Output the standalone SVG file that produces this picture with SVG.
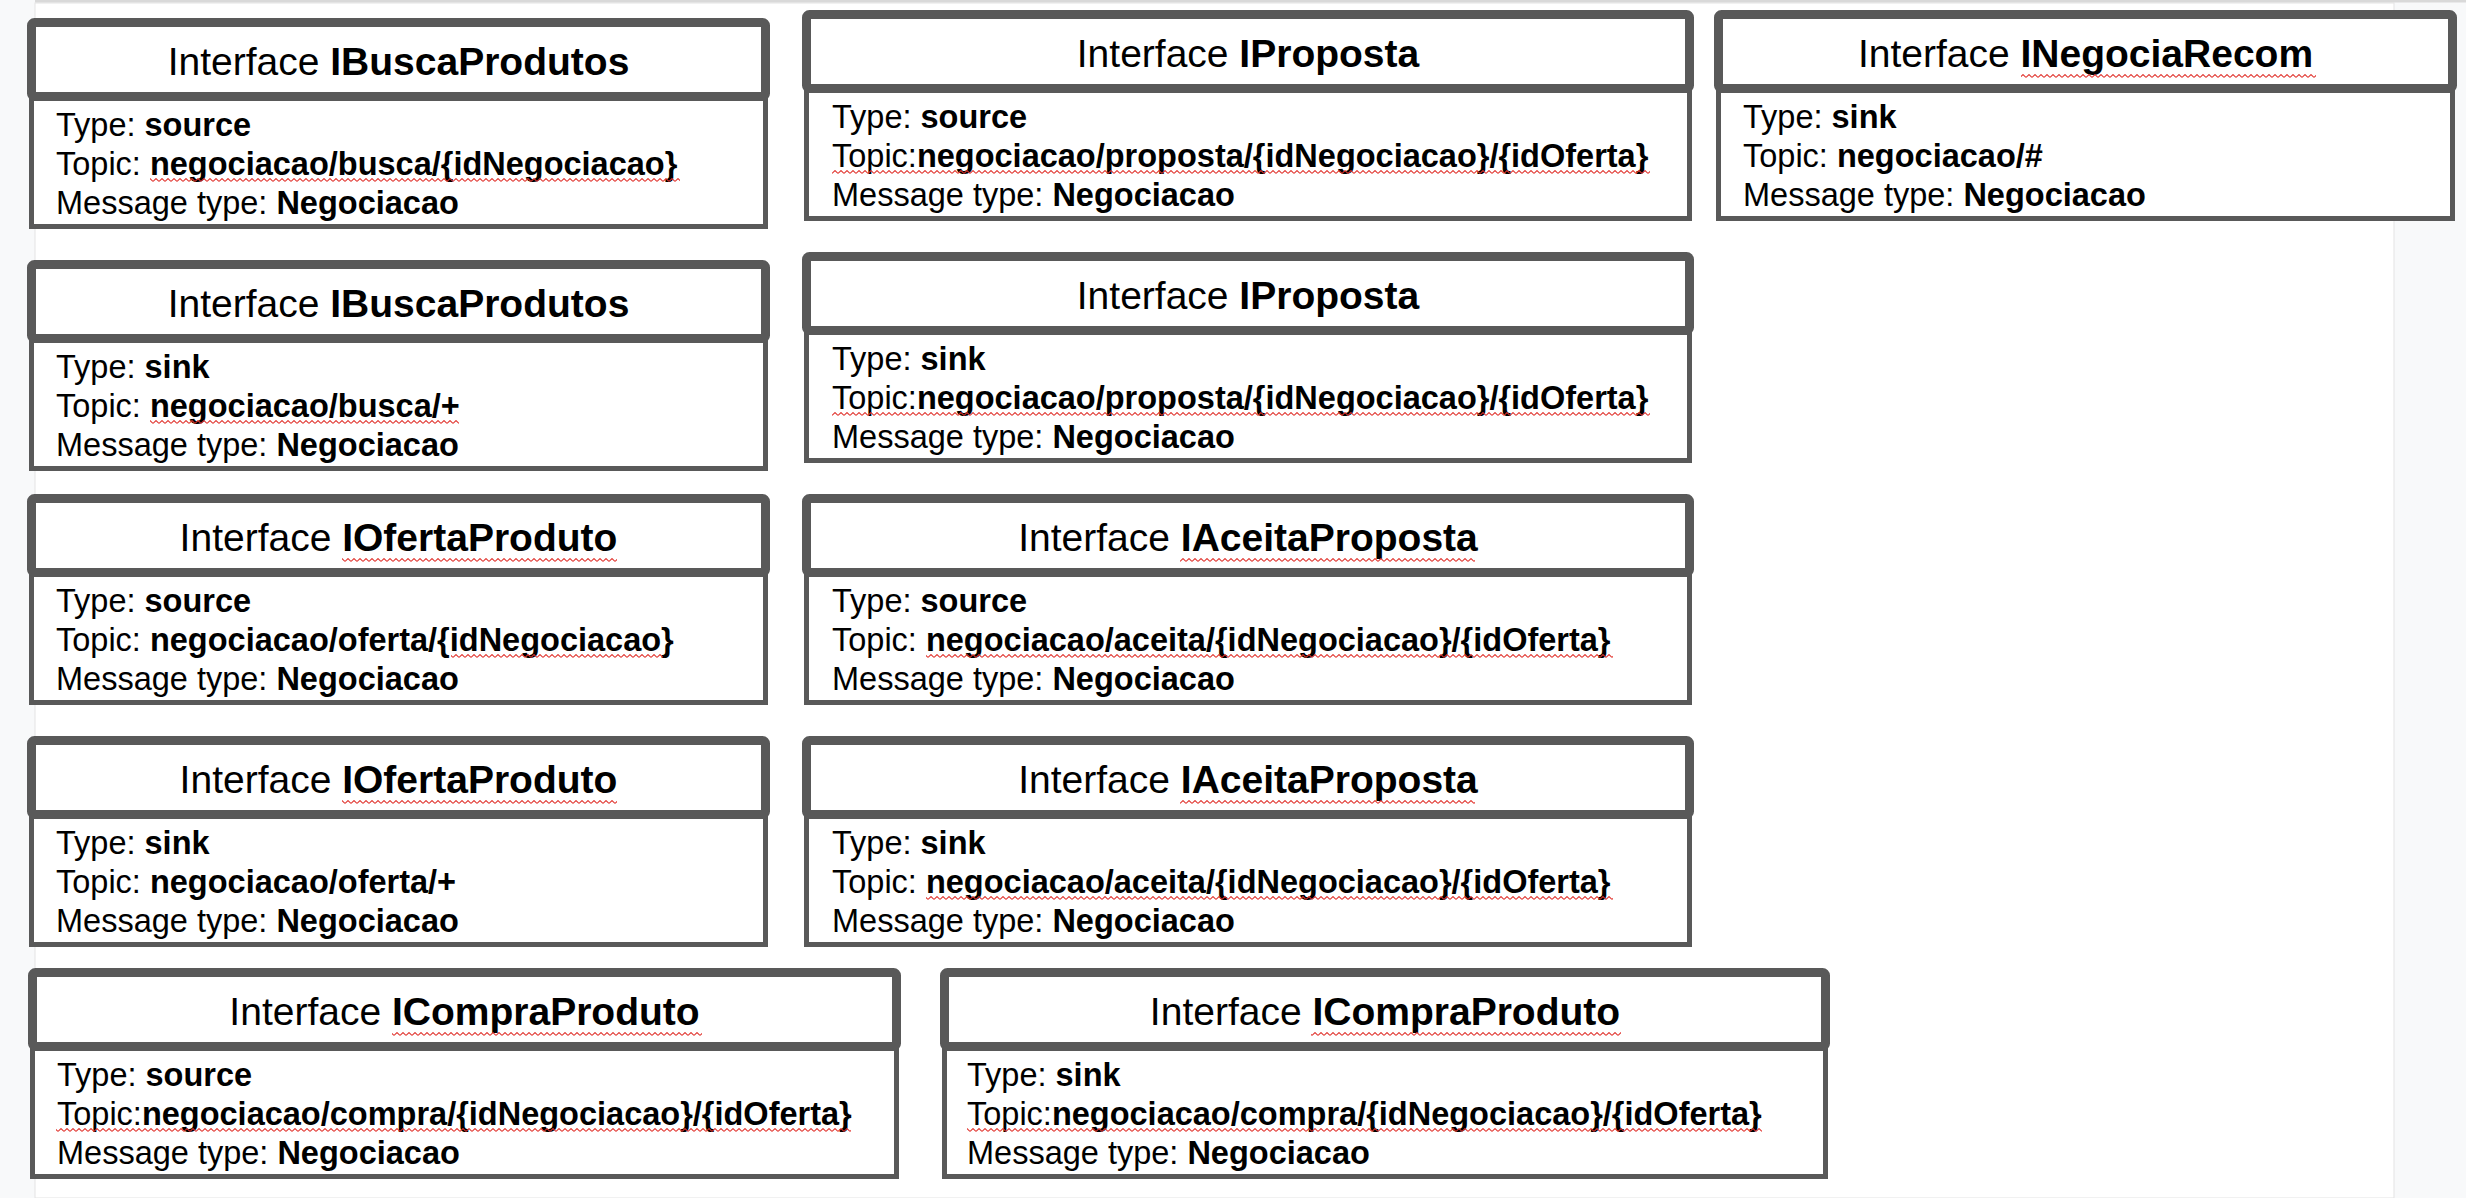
<svg xmlns="http://www.w3.org/2000/svg" width="2466" height="1198" viewBox="0 0 2466 1198">
<defs>
<style>
.hd{fill:#ffffff;stroke:#595959;stroke-width:9}
.bd{fill:#ffffff;stroke:#595959;stroke-width:5}
.tt{font-family:"Liberation Sans",Arial,sans-serif;font-size:39px;fill:#000;text-anchor:middle}
.tx{font-family:"Liberation Sans",Arial,sans-serif;font-size:32.5px;fill:#000}
.b{font-weight:bold}
.sq{fill:url(#sq)}
</style>
<pattern id="sq" patternUnits="userSpaceOnUse" width="6" height="4">
<path d="M0 3.4 L3 0.6 L6 3.4" fill="none" stroke="#e0302a" stroke-width="1.1"/>
</pattern>
</defs>
<rect x="0" y="0" width="2466" height="1198" fill="#f8f9fa"/>
<rect x="35" y="3" width="2359" height="1195" fill="#ffffff" stroke="#e3e3e3" stroke-width="1"/>
<rect x="35" y="0" width="2431" height="2.5" fill="#d9d9d9"/>
<g id="connectors"></g>

<g id="n1" transform="translate(27,18)">
<rect class="bd" x="4.5" y="78" width="734" height="130.5"/>
<rect class="hd" x="4.5" y="4.5" width="734" height="74" rx="3"/>
<text class="tt" x="371.5" y="57">Interface <tspan class="b">IBuscaProdutos</tspan></text>
<text class="tx" x="29" y="117.5">Type: <tspan class="b">source</tspan></text>
<text class="tx" x="29" y="156.5">Topic: <tspan class="b">negociacao/busca/{idNegociacao}</tspan></text>
<text class="tx" x="29" y="195.5">Message type: <tspan class="b">Negociacao</tspan></text>
<rect class="sq" x="123" y="160" width="530" height="4"/>
</g>

<g id="n2" transform="translate(27,260)">
<rect class="bd" x="4.5" y="78" width="734" height="130.5"/>
<rect class="hd" x="4.5" y="4.5" width="734" height="74" rx="3"/>
<text class="tt" x="371.5" y="57">Interface <tspan class="b">IBuscaProdutos</tspan></text>
<text class="tx" x="29" y="117.5">Type: <tspan class="b">sink</tspan></text>
<text class="tx" x="29" y="156.5">Topic: <tspan class="b">negociacao/busca/+</tspan></text>
<text class="tx" x="29" y="195.5">Message type: <tspan class="b">Negociacao</tspan></text>
<rect class="sq" x="123" y="160" width="309" height="4"/>
</g>

<g id="n3" transform="translate(27,494)">
<rect class="bd" x="4.5" y="78" width="734" height="130.5"/>
<rect class="hd" x="4.5" y="4.5" width="734" height="74" rx="3"/>
<text class="tt" x="371.5" y="57">Interface <tspan class="b">IOfertaProduto</tspan></text>
<text class="tx" x="29" y="117.5">Type: <tspan class="b">source</tspan></text>
<text class="tx" x="29" y="156.5">Topic: <tspan class="b">negociacao/oferta/{idNegociacao}</tspan></text>
<text class="tx" x="29" y="195.5">Message type: <tspan class="b">Negociacao</tspan></text>
<rect class="sq" x="315" y="64" width="275" height="4"/>
<rect class="sq" x="424" y="160" width="212" height="4"/>
</g>

<g id="n4" transform="translate(27,736)">
<rect class="bd" x="4.5" y="78" width="734" height="130.5"/>
<rect class="hd" x="4.5" y="4.5" width="734" height="74" rx="3"/>
<text class="tt" x="371.5" y="57">Interface <tspan class="b">IOfertaProduto</tspan></text>
<text class="tx" x="29" y="117.5">Type: <tspan class="b">sink</tspan></text>
<text class="tx" x="29" y="156.5">Topic: <tspan class="b">negociacao/oferta/+</tspan></text>
<text class="tx" x="29" y="195.5">Message type: <tspan class="b">Negociacao</tspan></text>
<rect class="sq" x="315" y="64" width="275" height="4"/>
</g>

<g id="n5" transform="translate(28,968)">
<rect class="bd" x="4.5" y="78" width="864" height="130.5"/>
<rect class="hd" x="4.5" y="4.5" width="864" height="74" rx="3"/>
<text class="tt" x="436.5" y="57">Interface <tspan class="b">ICompraProduto</tspan></text>
<text class="tx" x="29" y="117.5">Type: <tspan class="b">source</tspan></text>
<text class="tx" x="29" y="156.5">Topic:<tspan class="b">negociacao/compra/{idNegociacao}/{idOferta}</tspan></text>
<text class="tx" x="29" y="195.5">Message type: <tspan class="b">Negociacao</tspan></text>
<rect class="sq" x="364" y="64" width="310" height="4"/>
<rect class="sq" x="28" y="160" width="795" height="4"/>
</g>

<g id="n6" transform="translate(802,10)">
<rect class="bd" x="4.5" y="78" width="883" height="130.5"/>
<rect class="hd" x="4.5" y="4.5" width="883" height="74" rx="3"/>
<text class="tt" x="446" y="57">Interface <tspan class="b">IProposta</tspan></text>
<text class="tx" x="30" y="117.5">Type: <tspan class="b">source</tspan></text>
<text class="tx" x="30" y="156.5">Topic:<tspan class="b">negociacao/proposta/{idNegociacao}/{idOferta}</tspan></text>
<text class="tx" x="30" y="195.5">Message type: <tspan class="b">Negociacao</tspan></text>
<rect class="sq" x="30" y="160" width="818" height="4"/>
</g>

<g id="n7" transform="translate(802,252)">
<rect class="bd" x="4.5" y="78" width="883" height="130.5"/>
<rect class="hd" x="4.5" y="4.5" width="883" height="74" rx="3"/>
<text class="tt" x="446" y="57">Interface <tspan class="b">IProposta</tspan></text>
<text class="tx" x="30" y="117.5">Type: <tspan class="b">sink</tspan></text>
<text class="tx" x="30" y="156.5">Topic:<tspan class="b">negociacao/proposta/{idNegociacao}/{idOferta}</tspan></text>
<text class="tx" x="30" y="195.5">Message type: <tspan class="b">Negociacao</tspan></text>
<rect class="sq" x="30" y="160" width="818" height="4"/>
</g>

<g id="n8" transform="translate(802,494)">
<rect class="bd" x="4.5" y="78" width="883" height="130.5"/>
<rect class="hd" x="4.5" y="4.5" width="883" height="74" rx="3"/>
<text class="tt" x="446" y="57">Interface <tspan class="b">IAceitaProposta</tspan></text>
<text class="tx" x="30" y="117.5">Type: <tspan class="b">source</tspan></text>
<text class="tx" x="30" y="156.5">Topic: <tspan class="b">negociacao/aceita/{idNegociacao}/{idOferta}</tspan></text>
<text class="tx" x="30" y="195.5">Message type: <tspan class="b">Negociacao</tspan></text>
<rect class="sq" x="378" y="64" width="295" height="4"/>
<rect class="sq" x="124" y="160" width="687" height="4"/>
</g>

<g id="n9" transform="translate(802,736)">
<rect class="bd" x="4.5" y="78" width="883" height="130.5"/>
<rect class="hd" x="4.5" y="4.5" width="883" height="74" rx="3"/>
<text class="tt" x="446" y="57">Interface <tspan class="b">IAceitaProposta</tspan></text>
<text class="tx" x="30" y="117.5">Type: <tspan class="b">sink</tspan></text>
<text class="tx" x="30" y="156.5">Topic: <tspan class="b">negociacao/aceita/{idNegociacao}/{idOferta}</tspan></text>
<text class="tx" x="30" y="195.5">Message type: <tspan class="b">Negociacao</tspan></text>
<rect class="sq" x="378" y="64" width="295" height="4"/>
<rect class="sq" x="124" y="160" width="687" height="4"/>
</g>

<g id="n10" transform="translate(940,968)">
<rect class="bd" x="4.5" y="78" width="881" height="130.5"/>
<rect class="hd" x="4.5" y="4.5" width="881" height="74" rx="3"/>
<text class="tt" x="445" y="57">Interface <tspan class="b">ICompraProduto</tspan></text>
<text class="tx" x="27" y="117.5">Type: <tspan class="b">sink</tspan></text>
<text class="tx" x="27" y="156.5">Topic:<tspan class="b">negociacao/compra/{idNegociacao}/{idOferta}</tspan></text>
<text class="tx" x="27" y="195.5">Message type: <tspan class="b">Negociacao</tspan></text>
<rect class="sq" x="371" y="64" width="310" height="4"/>
<rect class="sq" x="27" y="160" width="795" height="4"/>
</g>

<g id="n11" transform="translate(1714,10)">
<rect class="bd" x="4.5" y="78" width="734" height="130.5"/>
<rect class="hd" x="4.5" y="4.5" width="734" height="74" rx="3"/>
<text class="tt" x="371.5" y="57">Interface <tspan class="b">INegociaRecom</tspan></text>
<text class="tx" x="29" y="117.5">Type: <tspan class="b">sink</tspan></text>
<text class="tx" x="29" y="156.5">Topic: <tspan class="b">negociacao/#</tspan></text>
<text class="tx" x="29" y="195.5">Message type: <tspan class="b">Negociacao</tspan></text>
<rect class="sq" x="307" y="64" width="295" height="4"/>
</g>
</svg>
